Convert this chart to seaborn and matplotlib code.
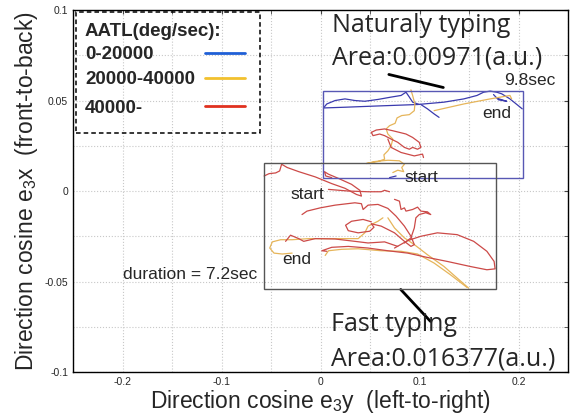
import pandas as pd
import numpy as np
import matplotlib
matplotlib.use("Agg")
import matplotlib.pyplot as plt
from matplotlib.patches import Rectangle
from matplotlib.ticker import MultipleLocator
import seaborn as sns

# ---- trajectories (e3y, e3x) ----
# natural typing
nat_blue_top = [(0.003, 0.0459), (0.0063, 0.0481), (0.0147, 0.0500), (0.0247, 0.0509),
                (0.0347, 0.0500), (0.0447, 0.0496), (0.058, 0.0506), (0.0713, 0.0519),
                (0.0813, 0.0528), (0.0863, 0.0546), (0.0897, 0.0519), (0.093, 0.0491),
                (0.0997, 0.0478)]
nat_blue_low = [(0.003, 0.0459), (0.0247, 0.0463), (0.058, 0.0470), (0.098, 0.0478),
                (0.1247, 0.0491), (0.1447, 0.0509), (0.158, 0.0528), (0.1647, 0.0546),
                (0.1713, 0.0552), (0.178, 0.0546), (0.183, 0.0537), (0.1913, 0.0509),
                (0.2037, 0.0454)]
nat_blue_branch = [(0.1013, 0.0478), (0.108, 0.0454), (0.1147, 0.0426), (0.1197, 0.0407)]
nat_blue_end = [(0.1747, 0.0533), (0.1797, 0.0504), (0.188, 0.0496), (0.1797, 0.0510)]
nat_blue_start = [(0.0697, 0.0074), (0.0763, 0.0083)]

nat_yellow = [(0.0913, 0.0559), (0.093, 0.0528), (0.0953, 0.0481), (0.0947, 0.0444),
              (0.0897, 0.0422), (0.082, 0.0417), (0.0773, 0.0404), (0.0753, 0.0374),
              (0.0697, 0.0361), (0.0663, 0.0343), (0.068, 0.0315), (0.073, 0.0287),
              (0.0713, 0.0250), (0.068, 0.0222), (0.064, 0.0200), (0.0647, 0.0176),
              (0.058, 0.0163), (0.0463, 0.0152), (0.0547, 0.0163), (0.068, 0.0170),
              (0.0797, 0.0167), (0.0847, 0.0148), (0.082, 0.0130), (0.084, 0.0107),
              (0.078, 0.0115), (0.073, 0.0102)]
nat_yellow_line = [(0.1147, 0.0444), (0.1447, 0.0481), (0.1713, 0.0509), (0.1913, 0.0528),
                   (0.193, 0.0509)]

nat_red_loop = [(0.0513, 0.0324), (0.0563, 0.0337), (0.0647, 0.0343), (0.073, 0.0333),
                (0.0797, 0.0324), (0.0863, 0.0315), (0.093, 0.0296), (0.0997, 0.0269),
                (0.1013, 0.0241), (0.098, 0.0231), (0.093, 0.0241), (0.0897, 0.0231),
                (0.0847, 0.0241), (0.078, 0.0269), (0.0713, 0.0287), (0.0647, 0.0306),
                (0.0597, 0.0315), (0.053, 0.0306), (0.0513, 0.0324)]
nat_red_low = [(0.068, 0.0287), (0.0713, 0.0241), (0.0813, 0.0213), (0.0947, 0.0194),
               (0.103, 0.0204), (0.104, 0.0185)]

# fast typing
fast_red_1 = [(-0.057, 0.0083), (-0.052, 0.0096), (-0.0453, 0.0100), (-0.0413, 0.0111),
              (-0.0393, 0.0148), (-0.0337, 0.0130), (-0.022, 0.0107), (-0.0053, 0.0078),
              (0.0113, 0.0041), (0.0247, 0.0015), (0.0363, -0.0019), (0.0413, -0.0028),
              (0.0397, 0.0004), (0.0313, 0.0037), (0.018, 0.0070), (0.008, 0.0093),
              (0.004, 0.0107), (0.0053, 0.0083), (0.0113, 0.0074)]
fast_red_2 = [(0.008, 0.0009), (0.028, 0.0), (0.048, -0.0004), (0.0613, -0.0004),
              (0.0647, 0.0004), (0.0697, -0.0004)]
fast_red_3 = [(-0.0187, -0.0130), (-0.0137, -0.0111), (-0.0003, -0.0093), (0.0147, -0.0078),
              (0.0347, -0.0065), (0.0413, -0.0070), (0.043, -0.0102), (0.048, -0.0078),
              (0.058, -0.0074), (0.068, -0.0096), (0.0763, -0.0139), (0.0847, -0.0194),
              (0.0913, -0.0250), (0.0947, -0.0296), (0.0913, -0.0306), (0.0847, -0.0278),
              (0.0747, -0.0231), (0.0613, -0.0194), (0.0513, -0.0181)]
fast_red_4 = [(0.0513, -0.0181), (0.054, -0.0200), (0.0497, -0.0222), (0.038, -0.0231),
              (0.028, -0.0219), (0.0253, -0.0189), (0.0313, -0.0167), (0.043, -0.0157),
              (0.0513, -0.0170)]
fast_red_5 = [(0.0747, -0.0046), (0.0797, -0.0056), (0.0813, -0.0102), (0.0847, -0.0093),
              (0.0863, -0.0111), (0.093, -0.0102), (0.098, -0.0089), (0.1013, -0.0111),
              (0.108, -0.0115), (0.1113, -0.0130), (0.1063, -0.0120), (0.0997, -0.0130),
              (0.0963, -0.0148), (0.0947, -0.0204), (0.0913, -0.0259), (0.0847, -0.0287)]
fast_red_6 = [(0.0747, -0.0315), (0.088, -0.0274), (0.1013, -0.0250), (0.118, -0.0231),
              (0.138, -0.0241), (0.1547, -0.0278), (0.168, -0.0333), (0.1753, -0.0389),
              (0.1763, -0.0430), (0.168, -0.0435), (0.1513, -0.0417), (0.128, -0.0389),
              (0.108, -0.0367), (0.088, -0.0343), (0.068, -0.0330), (0.048, -0.0315),
              (0.028, -0.0306), (0.0113, -0.0311), (0.0013, -0.0330), (0.0063, -0.0333)]
fast_red_7 = [(-0.0353, -0.0278), (-0.0303, -0.0244), (-0.022, -0.0263), (-0.017, -0.0278),
              (-0.0053, -0.0263), (0.0147, -0.0265), (0.0347, -0.0278), (0.048, -0.0287),
              (0.0647, -0.0281), (0.078, -0.0306)]

fast_yellow_1 = [(0.063, -0.0148), (0.058, -0.0167), (0.048, -0.0194), (0.0447, -0.0231),
                 (0.038, -0.0263), (0.0247, -0.0263), (0.008, -0.0263), (-0.012, -0.0263),
                 (-0.0287, -0.0269), (-0.0403, -0.0269), (-0.0487, -0.0281), (-0.0513, -0.0315),
                 (-0.047, -0.0343), (-0.0387, -0.0348), (-0.0287, -0.0343)]
fast_yellow_2 = [(0.068, -0.0148), (0.0747, -0.0204), (0.0847, -0.0259), (0.0947, -0.0296),
                 (0.108, -0.0352), (0.1247, -0.0417), (0.138, -0.0481), (0.1497, -0.0537)]
fast_yellow_3 = [(0.0047, -0.0356), (0.008, -0.0330), (0.0213, -0.0322), (0.038, -0.0319),
                 (0.0613, -0.0330), (0.0813, -0.0333), (0.098, -0.0348), (0.1147, -0.0398),
                 (0.1313, -0.0463), (0.148, -0.0533)]

segments = {
    "0-20000": [nat_blue_top, nat_blue_low, nat_blue_branch, nat_blue_end, nat_blue_start],
    "20000-40000": [nat_yellow, nat_yellow_line, fast_yellow_1, fast_yellow_2, fast_yellow_3],
    "40000-": [nat_red_loop, nat_red_low, fast_red_1, fast_red_2, fast_red_3, fast_red_4,
               fast_red_5, fast_red_6, fast_red_7],
}
speed_classes = ["0-20000", "20000-40000", "40000-"]
track_colors = ["#3a3aae", "#e6b55a", "#cc4a48"]
legend_colors = ["#1f5fd6", "#f2c12e", "#e0311f"]

# bounding boxes (x0, y0, x1, y1)
nat_box = (0.002, 0.0072, 0.204, 0.055)
fast_box = (-0.057, -0.054, 0.177, 0.0156)

rows = []
seg_id = 0
for cls in speed_classes:
    for seg in segments[cls]:
        for i, (xv, yv) in enumerate(seg):
            rows.append({"e3y": xv, "e3x": yv, "speed": cls, "seg": seg_id, "order": i})
        seg_id += 1
df = pd.DataFrame(rows)

# ---- plot ----
sns.set_style("white")
plt.rcParams["font.family"] = ["Liberation Sans", "DejaVu Sans"]
plt.rcParams["mathtext.fontset"] = "custom"
plt.rcParams["mathtext.rm"] = "Liberation Sans"

fig = plt.figure(figsize=(5.73, 4.18), dpi=100)
ax = fig.add_axes([0.1274, 0.110, 0.864, 0.866])

sns.lineplot(data=df, x="e3y", y="e3x", hue="speed", units="seg", estimator=None,
             sort=False, palette=dict(zip(speed_classes, track_colors)),
             hue_order=speed_classes, linewidth=0.9, legend=False, ax=ax)

ax.add_patch(Rectangle((nat_box[0], nat_box[1]), nat_box[2] - nat_box[0], nat_box[3] - nat_box[1],
                       fill=False, edgecolor="#5858b4", linewidth=1.0, zorder=3))
ax.add_patch(Rectangle((fast_box[0], fast_box[1]), fast_box[2] - fast_box[0], fast_box[3] - fast_box[1],
                       fill=False, edgecolor="#555555", linewidth=1.0, zorder=3))

# pointer lines
ax.plot([0.069, 0.124], [0.0644, 0.0572], color="black", linewidth=2)
ax.plot([0.081, 0.111], [-0.0544, -0.072], color="black", linewidth=2)

big = dict(fontsize=18, family=["Open Sans", "DejaVu Sans"], va="center", ha="left")
ax.text(0.012, 0.0917, "Naturaly typing", **big)
ax.text(0.012, 0.0733, "Area:0.00971(a.u.)", **big)
ax.text(0.011, -0.074, "Fast typing", **big)
ax.text(0.011, -0.093, "Area:0.016377(a.u.)", **big)

small = dict(fontsize=12.5, va="center", ha="left")
ax.text(0.185, 0.061, "9.8sec", **small)
ax.text(0.163, 0.043, "end", **small)
ax.text(0.085, 0.0072, "start", **small)
ax.text(-0.030, -0.002, "start", **small)
ax.text(-0.039, -0.038, "end", **small)
ax.text(-0.199, -0.046, "duration = 7.2sec", **small)

# custom legend with dashed frame
ax.add_patch(Rectangle((0.006, 0.660), 0.372, 0.334, transform=ax.transAxes, fill=False,
                       edgecolor="black", linewidth=1.1, linestyle=(0, (3, 2)), zorder=4))
ax.text(0.024, 0.942, "AATL(deg/sec):", transform=ax.transAxes, fontsize=13.5,
        fontweight="bold", va="center")
leg_y = [0.876, 0.807, 0.729]
for cls, col, yy in zip(speed_classes, legend_colors, leg_y):
    ax.text(0.024, yy, cls, transform=ax.transAxes, fontsize=13.5, fontweight="bold", va="center")
    ax.plot([0.267, 0.347], [yy + 0.006, yy + 0.006], transform=ax.transAxes, color=col,
            linewidth=2)

ax.set_xlim(-0.25, 0.25)
ax.set_ylim(-0.1, 0.1)
ax.set_xticks([-0.2, -0.1, 0, 0.1, 0.2])
ax.set_xticklabels(["-0.2", "-0.1", "0", "0.1", "0.2"])
ax.set_yticks([-0.1, -0.05, 0, 0.05, 0.1])
ax.set_yticklabels(["-0.1", "-0.05", "0", "0.05", "0.1"])
ax.xaxis.set_minor_locator(MultipleLocator(0.05))
ax.yaxis.set_minor_locator(MultipleLocator(0.025))
ax.grid(True, which="both", color="#c8c8c8", linestyle=":", linewidth=0.8)
ax.tick_params(which="both", direction="in", top=True, right=True, labelsize=7.5,
               length=3, color="#444444")
for sp in ax.spines.values():
    sp.set_color("black")
    sp.set_linewidth(1.0)

ax.set_xlabel("Direction cosine e$_3$y  (left-to-right)", fontsize=16.5, labelpad=1)
ax.set_ylabel("Direction cosine e$_3$x  (front-to-back)", fontsize=16.5, labelpad=3)

fig.savefig("out.png", dpi=100)
